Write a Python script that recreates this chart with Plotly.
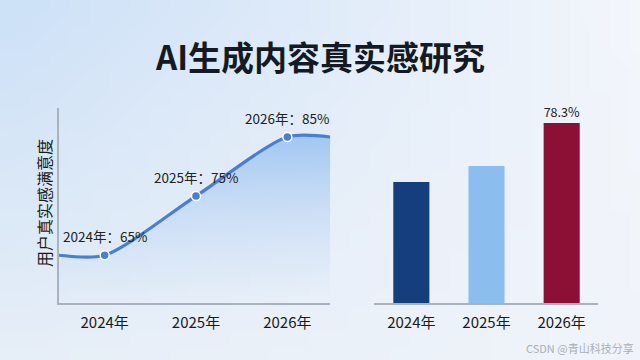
import base64, struct, zlib
import plotly.graph_objects as go

# ---- data ----
line_years = ["2024年", "2025年", "2026年"]
line_values = [65, 75, 85]
bar_years = ["2024年", "2025年", "2026年"]
bar_values = [52.6, 59.6, 78.3]
bar_colors = ["#153f7c", "#8bbdee", "#8c0f35"]
title_text = "AI生成内容真实感研究"
y_title = "用户真实感满意度"
watermark = "CSDN @青山科技分享"

FONT = "Noto Sans CJK SC"

# ---- background gradient image ----
def gradient_png(w, h, tl, tr, bl, br):
    rows = b""
    for j in range(h):
        v = j / (h - 1)
        row = b"\x00"
        for i in range(w):
            u = i / (w - 1)
            px = []
            for c in range(3):
                top = tl[c] * (1 - u) + tr[c] * u
                bot = bl[c] * (1 - u) + br[c] * u
                px.append(int(round(top * (1 - v) + bot * v)))
            row += bytes(px)
        rows += row
    def chunk(t, d):
        return struct.pack(">I", len(d)) + t + d + struct.pack(">I", zlib.crc32(t + d) & 0xffffffff)
    png = b"\x89PNG\r\n\x1a\n" + chunk(b"IHDR", struct.pack(">IIBBBBB", w, h, 8, 2, 0, 0, 0))
    png += chunk(b"IDAT", zlib.compress(rows)) + chunk(b"IEND", b"")
    return "data:image/png;base64," + base64.b64encode(png).decode()

bg = gradient_png(32, 18, (205, 225, 247), (243, 246, 251), (230, 238, 247), (240, 244, 250))

fig = go.Figure()

xr = [-0.5, 2.47]
ly_range = [56.9, 89.9]
xs = list(range(len(line_values)))
# line extended flat to axis edges using first/last data values
ext_x = [xr[0]] + xs + [xr[1]]
ext_y = [line_values[0]] + line_values + [line_values[-1]]

fig.add_trace(go.Scatter(
    x=ext_x, y=ext_y, mode="lines", line=dict(color="#4a7fcf", width=3.2, shape="spline", smoothing=0.75),
    fill="tozeroy",
    fillgradient=dict(type="vertical",
                      colorscale=[[0, "rgba(190,215,245,0)"], [0.5, "rgba(180,208,243,0.45)"], [1, "rgba(150,192,240,0.85)"]],
                      start=ly_range[0], stop=line_values[-1]),
    xaxis="x", yaxis="y", hoverinfo="skip", showlegend=False))
fig.add_trace(go.Scatter(
    x=xs, y=line_values, mode="markers",
    marker=dict(color="#4a7fcf", size=9, line=dict(color="white", width=1.5)),
    xaxis="x", yaxis="y", showlegend=False))

for i, (yr, v) in enumerate(zip(line_years, line_values)):
    fig.add_annotation(x=i, y=v, xref="x", yref="y", text=f"{yr}：{v}%", showarrow=False,
                       yshift=19, yanchor="middle", font=dict(family=FONT, size=13.5, color="#222"))

fig.add_trace(go.Bar(
    x=list(range(len(bar_values))), y=bar_values, marker=dict(color=bar_colors, line=dict(width=0)),
    width=0.48,
    text=["" if i < len(bar_values) - 1 else f"{v}%" for i, v in enumerate(bar_values)],
    textposition="outside", textfont=dict(family=FONT, size=15, color="#222"),
    cliponaxis=False,
    xaxis="x2", yaxis="y2", showlegend=False))

axis_line = dict(showline=True, linecolor="#a9b3bd", linewidth=1.5)
fig.update_layout(
    width=640, height=360,
    margin=dict(l=0, r=0, t=0, b=0),
    paper_bgcolor="#eaf1f9", plot_bgcolor="rgba(0,0,0,0)",
    font=dict(family=FONT),
    images=[dict(source=bg, xref="paper", yref="paper", x=0, y=1, sizex=1, sizey=1,
                 sizing="stretch", layer="below", xanchor="left", yanchor="top")],
    xaxis=dict(domain=[0.0922, 0.516], range=xr, tickvals=xs, ticktext=line_years,
               tickfont=dict(family=FONT, size=15, color="#1a1a1a"), showgrid=False, zeroline=False,
               ticks="", ticklabelstandoff=5, **axis_line),
    yaxis=dict(domain=[0.158, 0.70], range=ly_range, showticklabels=False, showgrid=False,
               zeroline=False, ticks="", **axis_line),
    xaxis2=dict(domain=[0.584, 0.934], range=[-0.5, 2.48], tickvals=list(range(len(bar_years))),
                ticktext=bar_years, tickfont=dict(family=FONT, size=15, color="#1a1a1a"),
                showgrid=False, zeroline=False, ticks="", ticklabelstandoff=5, anchor="y2", **axis_line),
    yaxis2=dict(domain=[0.158, 0.70], range=[0, 84.8], visible=False, anchor="x2"),
    bargap=0.5,
)

fig.add_annotation(xref="paper", yref="paper", x=0.5, y=1 - 56 / 360, text=f"<b>{title_text}</b>",
                   xanchor="center", yanchor="middle",
                   showarrow=False, font=dict(family=FONT, size=33, color="#141a24"))
fig.add_annotation(xref="paper", yref="paper", x=44 / 640, y=1 - 203 / 360, text=y_title, textangle=-90,
                   xanchor="center", yanchor="middle",
                   showarrow=False, font=dict(family=FONT, size=16, color="#1a1a1a"))
fig.add_annotation(xref="paper", yref="paper", x=636 / 640, y=1 - 348 / 360, text=watermark,
                   xanchor="right", yanchor="middle",
                   showarrow=False, font=dict(family=FONT, size=11, color="#a8b0b8"))

fig.write_html("out.html")
